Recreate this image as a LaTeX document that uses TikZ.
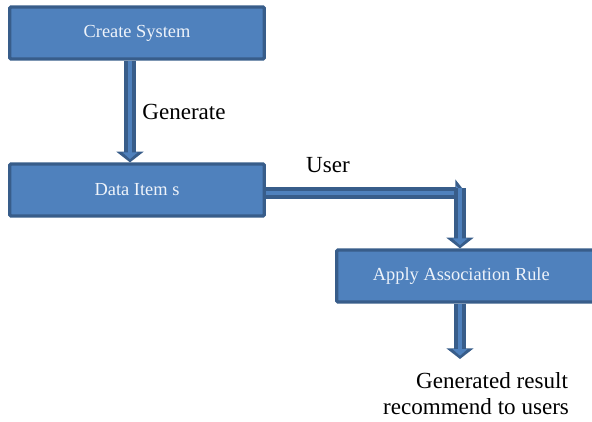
\documentclass[tikz,border=0pt]{standalone}
\usepackage{fontspec}
\setmainfont{Liberation Serif}
\usetikzlibrary{arrows.meta}

\definecolor{boxblue}{HTML}{4F81BD}
\definecolor{boxedge}{HTML}{385D8A}
\definecolor{boxtext}{HTML}{EEF3FA}

\tikzset{
  procbox/.style={rectangle, rounded corners=1pt, fill=boxblue, draw=boxedge, line width=2.4pt,
    minimum width=191pt, minimum height=39pt, text=boxtext, font=\fontsize{13.8}{16}\selectfont},
  flow/.style={draw=boxedge, line width=8.5pt, -{Triangle[length=8pt,width=20pt]},
    postaction={draw=boxblue, line width=3.5pt, -{Triangle[length=5pt,width=11pt]}, shorten >=2.5pt}},
  lbl/.style={font=\fontsize{17.3}{19.5}\selectfont}
}

\begin{document}
\begin{tikzpicture}[x=0.75pt, y=-0.75pt]
    \useasboundingbox (0,0) rectangle (592,421);

    \node[procbox] (create) at (137,33) {Create System};
    \node[procbox] (data) at (137,190) {Data Item s};
    \node[procbox, minimum width=197pt] (apply) at (468,276) {\hspace*{-10pt}Apply Association Rule};
    \node[lbl, align=center, inner sep=1pt] (result) at (476,394) {\hspace*{24pt}Generated result\\recommend to users};

    \coordinate (turn) at (466,193);
    \coordinate (drop) at (460,188);

    \draw[flow] (create.south -| 130,0) -- (data.north -| 130,0);
    \draw[flow] (data.east |- turn) -- (turn);
    \draw[flow] (drop) -- (drop |- apply.north);
    \draw[flow] (apply.south -| drop) -- (drop |- 0,359);

    \node[lbl] (gen) at (184,112) {Generate};
    \node[lbl] (user) at (328,165) {User};
\end{tikzpicture}
\end{document}
